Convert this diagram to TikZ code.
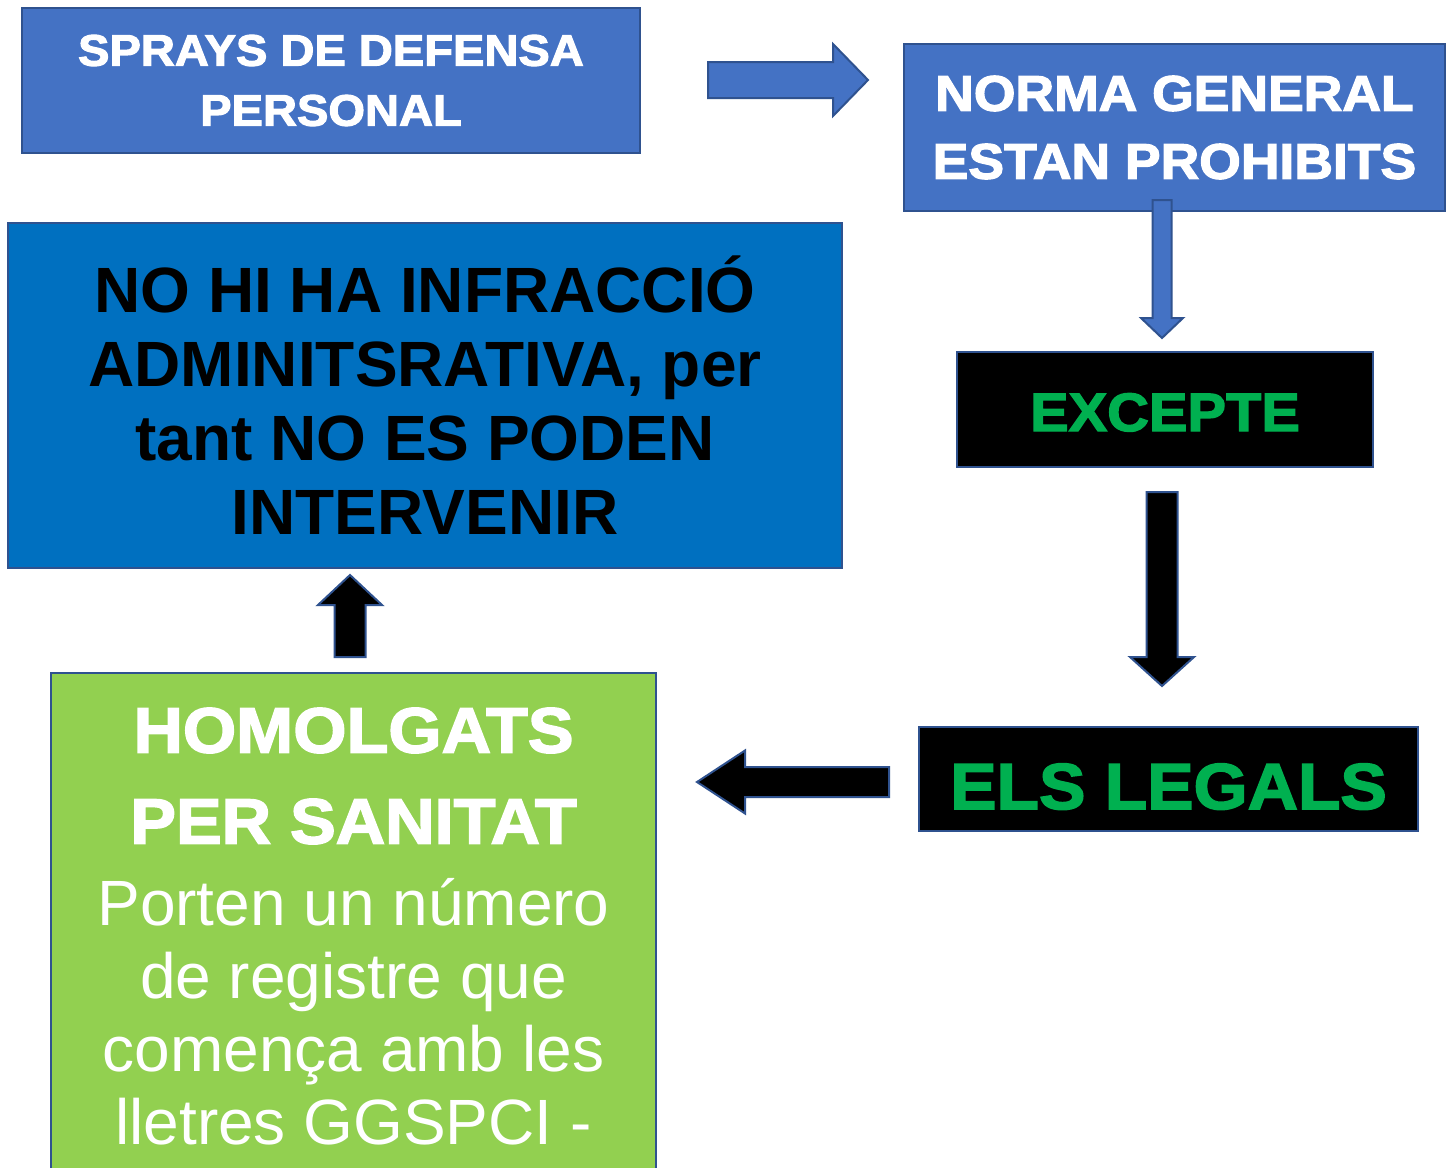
\documentclass[tikz,border=0pt]{standalone}
\usepackage{fontspec}
\setmainfont{Liberation Sans}
\newfontfamily\heavyfont[FakeBold=2.5,FakeStretch=1.07]{Liberation Sans Bold}
\usetikzlibrary{calc}

\definecolor{boxblue}{HTML}{4472C4}
\definecolor{deepblue}{HTML}{0070C0}
\definecolor{edgeblue}{HTML}{2F528F}
\definecolor{leafgreen}{HTML}{92D050}
\definecolor{signgreen}{HTML}{00B050}

\tikzset{
  box/.style={draw=edgeblue, line width=2.5pt, inner sep=0pt, align=center},
  arrs/.store in=\arrs, arrh/.store in=\arrh, arrl/.store in=\arrl,
  blockarrow/.style={draw=edgeblue, line width=2pt, line join=miter, to path={
    ($(\tikztostart)!\arrs!90:(\tikztotarget)$)
    -- ($($(\tikztotarget)!\arrl!(\tikztostart)$)!\arrs!90:(\tikztotarget)$)
    -- ($($(\tikztotarget)!\arrl!(\tikztostart)$)!\arrh!90:(\tikztotarget)$)
    -- (\tikztotarget)
    -- ($($(\tikztotarget)!\arrl!(\tikztostart)$)!\arrh!-90:(\tikztotarget)$)
    -- ($($(\tikztotarget)!\arrl!(\tikztostart)$)!\arrs!-90:(\tikztotarget)$)
    -- ($(\tikztostart)!\arrs!-90:(\tikztotarget)$) -- cycle}}
}

\begin{document}
\begin{tikzpicture}[x=1pt, y=-1pt]
  \useasboundingbox (0,0) rectangle (1453,1167);
  \clip (0,0) rectangle (1453,1167);
  \fill[white] (0,0) rectangle (1453,1167);

  % top row
  \node[box, fill=boxblue, text=white, minimum width=618, minimum height=145,
        font=\heavyfont\fontsize{44}{60}\selectfont] (sprays) at (331,80.5)
        {SPRAYS DE DEFENSA\\PERSONAL};
  \node[box, fill=boxblue, text=white, minimum width=541, minimum height=167,
        font=\heavyfont\fontsize{50}{68}\selectfont] (norma) at (1174.5,127.5)
        {NORMA GENERAL\\ESTAN PROHIBITS};

  % right column
  \node[box, fill=black, text=signgreen, minimum width=416, minimum height=115,
        text height=43pt, text depth=0pt,
        font=\heavyfont\fontsize{54}{60}\selectfont] (excepte) at (1165,409.5) {EXCEPTE};
  \node[box, fill=black, text=signgreen, minimum width=499, minimum height=104,
        text height=60pt, text depth=0pt,
        font=\heavyfont\fontsize{65}{70}\selectfont] (legals) at (1168.5,779) {ELS LEGALS};

  % left column
  \node[box, fill=deepblue, text=black, minimum width=834, minimum height=345,
        font=\bfseries\fontsize{64}{74}\selectfont] (infraccio) at (425,395.5)
        {NO HI HA INFRACCIÓ\\ADMINITSRATIVA, per\\tant NO ES PODEN\\INTERVENIR};
  \node[box, fill=leafgreen, text=white, minimum width=605, minimum height=507,
        font=\fontsize{64}{73}\selectfont] (homologats) at (353.5,926.5)
        {{\heavyfont HOMOLGATS}\\[18pt]{\heavyfont PER SANITAT}\\[9pt]Porten un número\\de
         registre que\\comença amb les\\lletres GGSPCI -};

  % arrow ends
  \coordinate (a1s) at (708,80);   \coordinate (a1e) at (868,80);
  \coordinate (a2s) at (1162,200); \coordinate (a2e) at (1162,338);
  \coordinate (a3s) at (1162,492); \coordinate (a3e) at (1162,686);
  \coordinate (a4s) at (889,782);  \coordinate (a4e) at (697,782);
  \coordinate (a5s) at (350,657);  \coordinate (a5e) at (350,575);

  \draw[blockarrow, fill=boxblue, arrs=18pt, arrh=36pt, arrl=35pt] (a1s) to (a1e);
  \draw[blockarrow, fill=boxblue, arrs=9.5pt, arrh=21pt, arrl=20pt] (a2s) to (a2e);
  \draw[blockarrow, fill=black, arrs=15.5pt, arrh=32pt, arrl=29pt] (a3s) to (a3e);
  \draw[blockarrow, fill=black, arrs=15pt, arrh=31.5pt, arrl=48pt] (a4s) to (a4e);
  \draw[blockarrow, fill=black, arrs=15.5pt, arrh=32pt, arrl=30pt] (a5s) to (a5e);
\end{tikzpicture}
\end{document}
